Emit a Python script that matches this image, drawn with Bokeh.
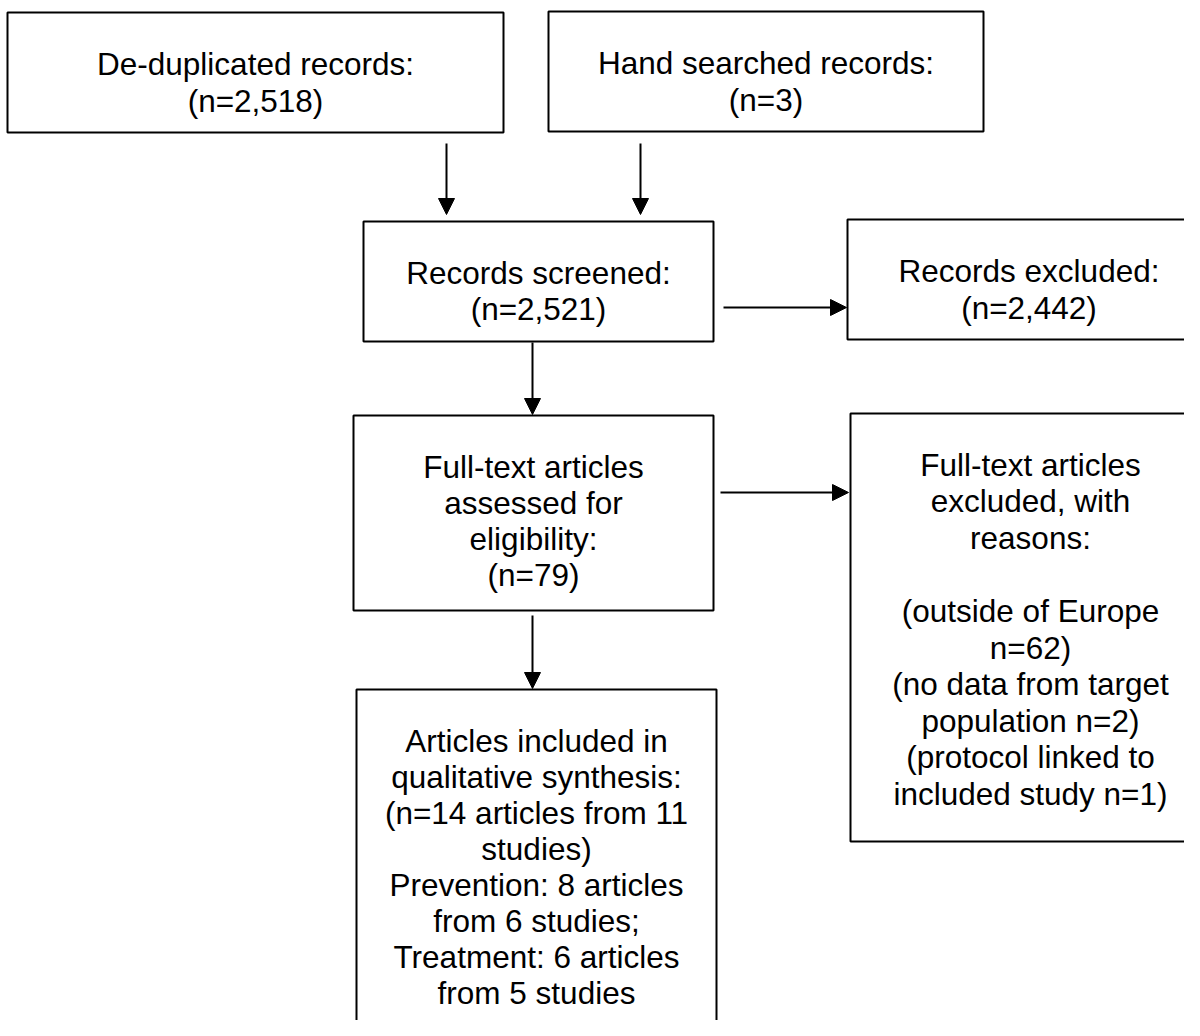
from bokeh.plotting import figure
from bokeh.models import Range1d, Arrow, NormalHead, ColumnDataSource
from bokeh.core.properties import value
from bokeh.embed import file_html
from bokeh.resources import INLINE

# ---- content (texts and counts) ----
box_ids = ["dedup", "hand", "screened", "excluded", "fulltext", "ft_excluded", "included"]
box_lines = [
    ["De-duplicated records:", "(n=2,518)"],
    ["Hand searched records:", "(n=3)"],
    ["Records screened:", "(n=2,521)"],
    ["Records excluded:", "(n=2,442)"],
    ["Full-text articles", "assessed for", "eligibility:", "(n=79)"],
    ["Full-text articles", "excluded, with", "reasons:", "", "(outside of Europe", "n=62)",
     "(no data from target", "population n=2)", "(protocol linked to", "included study n=1)"],
    ["Articles included in", "qualitative synthesis:", "(n=14 articles from 11", "studies)",
     "Prevention: 8 articles", "from 6 studies;", "Treatment: 6 articles", "from 5 studies"],
]
links = [("dedup", "screened"), ("hand", "screened"), ("screened", "excluded"),
         ("screened", "fulltext"), ("fulltext", "ft_excluded"), ("fulltext", "included")]

# ---- layout (pixel geometry, y downward) ----
box_geom = {  # left, right, top, bottom
    "dedup": (7, 503, 12, 132),
    "hand": (548, 983, 11, 131),
    "screened": (363, 713, 221, 341),
    "excluded": (847, 1210, 219, 339),
    "fulltext": (353, 713, 415, 610),
    "ft_excluded": (850, 1210, 413, 841),
    "included": (356, 716, 689, 1060),
}
line_gap = {"dedup": 37, "hand": 37, "screened": 36, "excluded": 37,
            "fulltext": 36, "ft_excluded": 36.6, "included": 36}
arrow_geom = [  # x_start, y_start, x_end, y_end
    (446, 143, 446, 214),
    (640, 143, 640, 214),
    (723, 307, 846, 307),
    (532, 342, 532, 414),
    (720, 492, 848, 492),
    (532, 615, 532, 688),
]

p = figure(width=1184, height=1020, output_backend="svg", toolbar_location=None,
           x_range=Range1d(0, 1184), y_range=Range1d(1020, 0),
           min_border=0, outline_line_color=None, background_fill_color="white",
           border_fill_color="white")
p.axis.visible = False
p.grid.visible = False

L, R, T, B = zip(*[box_geom[b] for b in box_ids])
p.quad(left=list(L), right=list(R), top=list(T), bottom=list(B),
       fill_color="white", line_color="black", line_width=2)

tx, ty, tt = [], [], []
for b, lines in zip(box_ids, box_lines):
    l, r, t, _ = box_geom[b]
    for i, s in enumerate(lines):
        tx.append((l + r) / 2)
        ty.append(t + 51 + i * line_gap[b])
        tt.append(s)
src = ColumnDataSource(dict(x=tx, y=ty, t=tt))
p.text(x="x", y="y", text="t", source=src, text_align="center", text_baseline="alphabetic",
       text_font=value("Liberation Sans"), text_font_size="31.5px", text_color="black")

for (xs, ys, xe, ye) in arrow_geom:
    p.add_layout(Arrow(end=NormalHead(size=16, fill_color="black", line_color="black", line_width=1),
                       x_start=xs, y_start=ys, x_end=xe, y_end=ye,
                       line_color="black", line_width=2))

open("out.html", "w").write(file_html(p, INLINE))
